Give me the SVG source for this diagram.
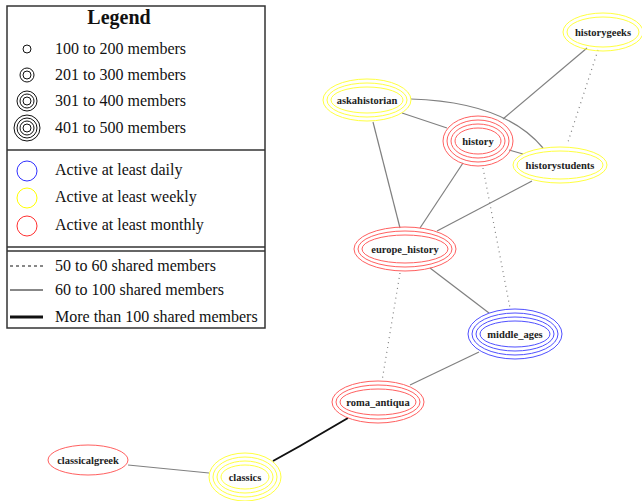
<svg xmlns="http://www.w3.org/2000/svg" width="642" height="501" viewBox="0 0 642 501">
<style>
.lt{font-family:"Liberation Serif","Times New Roman",serif;font-size:16px;fill:#111}
.nl{font-family:"Liberation Serif","Times New Roman",serif;font-size:10.5px;font-weight:bold;fill:#222;text-anchor:middle}
.e{stroke:#808080;stroke-width:1.2;fill:none}
.d{stroke:#808080;stroke-width:1.2;fill:none;stroke-dasharray:1 4}
.y{fill:none;stroke:#ffff40;stroke-width:1}
.r{fill:none;stroke:#ff6060;stroke-width:1}
.b{fill:none;stroke:#5050ff;stroke-width:1}
.k{fill:none;stroke:#111;stroke-width:1}
</style>
<rect width="642" height="501" fill="#fff"/>
<g id="legend">
<rect x="7" y="6" width="258" height="322" fill="#fff" stroke="#333" stroke-width="1.5"/>
<line x1="7" y1="150" x2="265" y2="150" stroke="#333" stroke-width="1.5"/>
<line x1="7" y1="247" x2="265" y2="247" stroke="#333" stroke-width="1.5"/>
<line x1="7" y1="251" x2="265" y2="251" stroke="#333" stroke-width="1.5"/>
<text x="119" y="24" text-anchor="middle" style="font-family:'Liberation Serif',serif;font-size:20px;font-weight:bold;fill:#111">Legend</text>
<circle class="k" cx="27" cy="49" r="4"/>
<circle class="k" cx="27" cy="75" r="4"/><circle class="k" cx="27" cy="75" r="7"/>
<circle class="k" cx="27" cy="101" r="4"/><circle class="k" cx="27" cy="101" r="7"/><circle class="k" cx="27" cy="101" r="10"/>
<circle class="k" cx="27" cy="128" r="4"/><circle class="k" cx="27" cy="128" r="7"/><circle class="k" cx="27" cy="128" r="10"/><circle class="k" cx="27" cy="128" r="13"/>
<text class="lt" x="55" y="54">100 to 200 members</text>
<text class="lt" x="55" y="80">201 to 300 members</text>
<text class="lt" x="55" y="106">301 to 400 members</text>
<text class="lt" x="55" y="133">401 to 500 members</text>
<circle cx="27" cy="171" r="10" fill="none" stroke="#3030ff" stroke-width="1"/>
<circle cx="27" cy="198" r="10" fill="none" stroke="#ffff00" stroke-width="1"/>
<circle cx="27" cy="226" r="10" fill="none" stroke="#ff3030" stroke-width="1"/>
<text class="lt" x="55" y="175">Active at least daily</text>
<text class="lt" x="55" y="202">Active at least weekly</text>
<text class="lt" x="55" y="230">Active at least monthly</text>
<line x1="10" y1="266" x2="43" y2="266" stroke="#111" stroke-width="1" stroke-dasharray="3 3"/>
<line x1="10" y1="290" x2="43" y2="290" stroke="#111" stroke-width="1"/>
<line x1="10" y1="317" x2="43" y2="317" stroke="#111" stroke-width="3"/>
<text class="lt" x="55" y="271">50 to 60 shared members</text>
<text class="lt" x="55" y="295">60 to 100 shared members</text>
<text class="lt" x="55" y="322">More than 100 shared members</text>
</g>
<g id="edges">
<line class="e" x1="587" y1="48" x2="503" y2="119"/>
<line class="d" x1="598" y1="50" x2="567" y2="145"/>
<line class="e" x1="402" y1="113" x2="447" y2="128"/>
<path class="e" d="M411,99 Q505,102 543,148"/>
<line class="e" x1="509" y1="150" x2="523" y2="154"/>
<line class="e" x1="373" y1="122" x2="400" y2="228"/>
<line class="e" x1="463" y1="163" x2="420" y2="228"/>
<line class="e" x1="532" y1="181" x2="437" y2="231"/>
<line class="d" x1="483" y1="168" x2="510" y2="308"/>
<line class="e" x1="430" y1="268" x2="489" y2="313"/>
<line class="d" x1="400" y1="273" x2="382" y2="381"/>
<line class="e" x1="479" y1="352" x2="410" y2="385"/>
<path d="M348,418 L300,446 L273,461" fill="none" stroke="#111" stroke-width="2"/>
<line class="e" x1="128" y1="465" x2="209" y2="473"/>
</g>
<g id="historygeeks">
<ellipse class="y" cx="603" cy="32" rx="40" ry="19"/><ellipse class="y" cx="603" cy="32" rx="36" ry="15"/>
<text class="nl" x="603" y="36">historygeeks</text>
</g>
<g id="askahistorian">
<ellipse class="y" cx="367" cy="100" rx="44" ry="21"/><ellipse class="y" cx="367" cy="100" rx="40" ry="17"/><ellipse class="y" cx="367" cy="100" rx="36" ry="13"/>
<text class="nl" x="367" y="104">askahistorian</text>
</g>
<g id="history">
<ellipse class="r" cx="478" cy="141" rx="35" ry="25"/><ellipse class="r" cx="478" cy="141" rx="31" ry="21"/><ellipse class="r" cx="478" cy="141" rx="27" ry="17"/><ellipse class="r" cx="478" cy="141" rx="23" ry="13"/>
<text class="nl" x="478" y="145">history</text>
</g>
<g id="historystudents">
<ellipse class="y" cx="560" cy="165" rx="47" ry="18"/><ellipse class="y" cx="560" cy="165" rx="43" ry="14"/>
<text class="nl" x="560" y="169">historystudents</text>
</g>
<g id="europe_history">
<ellipse class="r" cx="405" cy="249" rx="51" ry="22"/><ellipse class="r" cx="405" cy="249" rx="47" ry="18"/><ellipse class="r" cx="405" cy="249" rx="43" ry="14"/>
<text class="nl" x="405" y="253">europe_history</text>
</g>
<g id="middle_ages">
<ellipse class="b" cx="515" cy="334" rx="47" ry="25"/><ellipse class="b" cx="515" cy="334" rx="43" ry="21"/><ellipse class="b" cx="515" cy="334" rx="39" ry="17"/><ellipse class="b" cx="515" cy="334" rx="35" ry="13"/>
<text class="nl" x="515" y="338">middle_ages</text>
</g>
<g id="roma_antiqua">
<ellipse class="r" cx="378" cy="402" rx="46" ry="21"/><ellipse class="r" cx="378" cy="402" rx="42" ry="17"/><ellipse class="r" cx="378" cy="402" rx="38" ry="13"/>
<text class="nl" x="378" y="406">roma_antiqua</text>
</g>
<g id="classics">
<ellipse class="y" cx="245" cy="477" rx="36" ry="24"/><ellipse class="y" cx="245" cy="477" rx="32" ry="20"/><ellipse class="y" cx="245" cy="477" rx="28" ry="16"/><ellipse class="y" cx="245" cy="477" rx="24" ry="12"/>
<text class="nl" x="245" y="481">classics</text>
</g>
<g id="classicalgreek">
<ellipse class="r" cx="88" cy="460" rx="40" ry="15"/>
<text class="nl" x="88" y="464">classicalgreek</text>
</g>
</svg>
